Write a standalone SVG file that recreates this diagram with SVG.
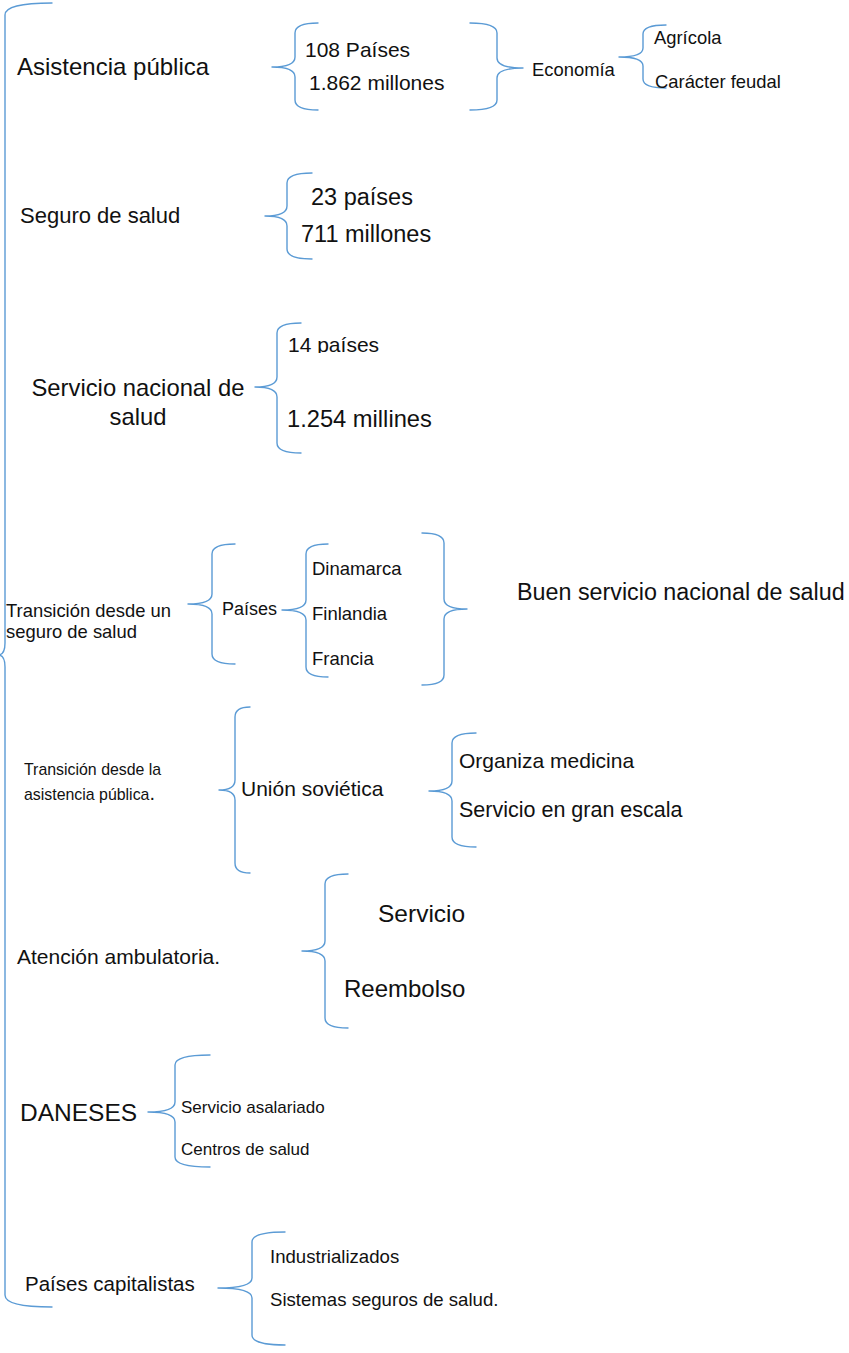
<svg xmlns="http://www.w3.org/2000/svg" width="849" height="1353" viewBox="0 0 849 1353">
<style>
text{font-family:"Liberation Sans",Arial,sans-serif;fill:#111;}
.br{fill:none;stroke:#5B9BD5;stroke-width:1.4;stroke-linecap:round;stroke-linejoin:round;}
</style>
<defs>
<clipPath id="clip14"><rect x="280" y="320" width="200" height="33"/></clipPath>
</defs>
<rect x="0" y="0" width="849" height="1353" fill="#ffffff"/>
<g id="connectors">
<path class="br" d="M52,3 Q5,3 5,15 L5,643 Q5,655 -2,655 Q5,655 5,667 L5,1295 Q5,1307 52,1307"/>
<path class="br" d="M318,23 Q295,23 295,33 L295,57 Q295,67 272,67 Q295,67 295,77 L295,100 Q295,110 318,110"/>
<path class="br" d="M470,23 Q497,23 497,33 L497,58 Q497,68 523,68 Q497,68 497,78 L497,100 Q497,110 470,110"/>
<path class="br" d="M666,25 Q643,25 643,34 L643,48 Q643,57 619,57 Q643,57 643,66 L643,79 Q643,88 666,88"/>
<path class="br" d="M312,173 Q287,173 287,183 L287,206 Q287,216 265,216 Q287,216 287,226 L287,249 Q287,259 312,259"/>
<path class="br" d="M301,323 Q277,323 277,333 L277,377 Q277,387 255,387 Q277,387 277,397 L277,443 Q277,453 301,453"/>
<path class="br" d="M235,544 Q212,544 212,554 L212,594 Q212,604 188,604 Q212,604 212,614 L212,654 Q212,664 235,664"/>
<path class="br" d="M328,544 Q306,544 306,554 L306,600 Q306,610 282,610 Q306,610 306,620 L306,667 Q306,677 328,677"/>
<path class="br" d="M422,533 Q444,533 444,543 L444,599 Q444,609 467,609 Q444,609 444,619 L444,675 Q444,685 422,685"/>
<path class="br" d="M250,707 Q235,707 235,717 L235,780 Q235,790 219,790 Q235,790 235,800 L235,863 Q235,873 250,873"/>
<path class="br" d="M476,733 Q452,733 452,743 L452,781 Q452,791 429,791 Q452,791 452,801 L452,837 Q452,847 476,847"/>
<path class="br" d="M348,874 Q325,874 325,884 L325,941 Q325,951 302,951 Q325,951 325,961 L325,1018 Q325,1028 348,1028"/>
<path class="br" d="M210,1055 Q175,1055 175,1065 L175,1102 Q175,1112 148,1112 Q175,1112 175,1122 L175,1157 Q175,1167 210,1167"/>
<path class="br" d="M285,1232 Q252,1232 252,1242 L252,1278 Q252,1288 218,1288 Q252,1288 252,1298 L252,1335 Q252,1345 285,1345"/>
</g>
<g id="asistencia-publica"><text x="17" y="75" font-size="24">Asistencia pública</text></g>
<g id="asistencia-datos">
<text x="305" y="57" font-size="21">108 Países</text>
<text x="309" y="90" font-size="21">1.862 millones</text>
</g>
<g id="economia"><text x="532" y="76" font-size="18.4">Economía</text></g>
<g id="economia-rasgos">
<text x="654" y="44" font-size="18.4">Agrícola</text>
<text x="655" y="88" font-size="18.4">Carácter feudal</text>
</g>
<g id="seguro-de-salud"><text x="20" y="223" font-size="22">Seguro de salud</text></g>
<g id="seguro-datos">
<text x="311" y="205" font-size="23.5">23 países</text>
<text x="301" y="242" font-size="23.5">711 millones</text>
</g>
<g id="servicio-nacional">
<text x="138" y="396" font-size="23.8" text-anchor="middle">Servicio nacional de</text>
<text x="138" y="425" font-size="23.8" text-anchor="middle">salud</text>
</g>
<g id="servicio-datos">
<text x="288" y="352" font-size="21" clip-path="url(#clip14)">14 países</text>
<text x="287" y="427" font-size="23.7">1.254 millines</text>
</g>
<g id="transicion-seguro">
<text x="6" y="617" font-size="18.4">Transición desde un</text>
<text x="6" y="638" font-size="18.4">seguro de salud</text>
</g>
<g id="paises"><text x="222" y="615" font-size="18">Países</text></g>
<g id="paises-lista">
<text x="312" y="575" font-size="18.5">Dinamarca</text>
<text x="312" y="620" font-size="18.5">Finlandia</text>
<text x="312" y="665" font-size="18.5">Francia</text>
</g>
<g id="buen-servicio"><text x="517" y="600" font-size="23.3">Buen servicio nacional de salud</text></g>
<g id="transicion-asistencia">
<text x="24" y="775" font-size="15.9">Transición desde la</text>
<text x="24" y="800" font-size="15.9">asistencia pública<tspan font-size="20">.</tspan></text>
</g>
<g id="union-sovietica"><text x="241" y="796" font-size="21">Unión soviética</text></g>
<g id="union-rasgos">
<text x="459" y="768" font-size="21">Organiza medicina</text>
<text x="459" y="817" font-size="21.5">Servicio en gran escala</text>
</g>
<g id="atencion-ambulatoria"><text x="17" y="964" font-size="21">Atención ambulatoria.</text></g>
<g id="atencion-tipos">
<text x="378" y="922" font-size="24.5">Servicio</text>
<text x="344" y="997" font-size="24">Reembolso</text>
</g>
<g id="daneses"><text x="20" y="1121" font-size="24.5">DANESES</text></g>
<g id="daneses-rasgos">
<text x="181" y="1113" font-size="17">Servicio asalariado</text>
<text x="181" y="1155" font-size="17">Centros de salud</text>
</g>
<g id="paises-capitalistas"><text x="25" y="1291" font-size="20.5">Países capitalistas</text></g>
<g id="capitalistas-rasgos">
<text x="270" y="1263" font-size="18.6">Industrializados</text>
<text x="270" y="1306" font-size="18.6">Sistemas seguros de salud.</text>
</g>
</svg>
